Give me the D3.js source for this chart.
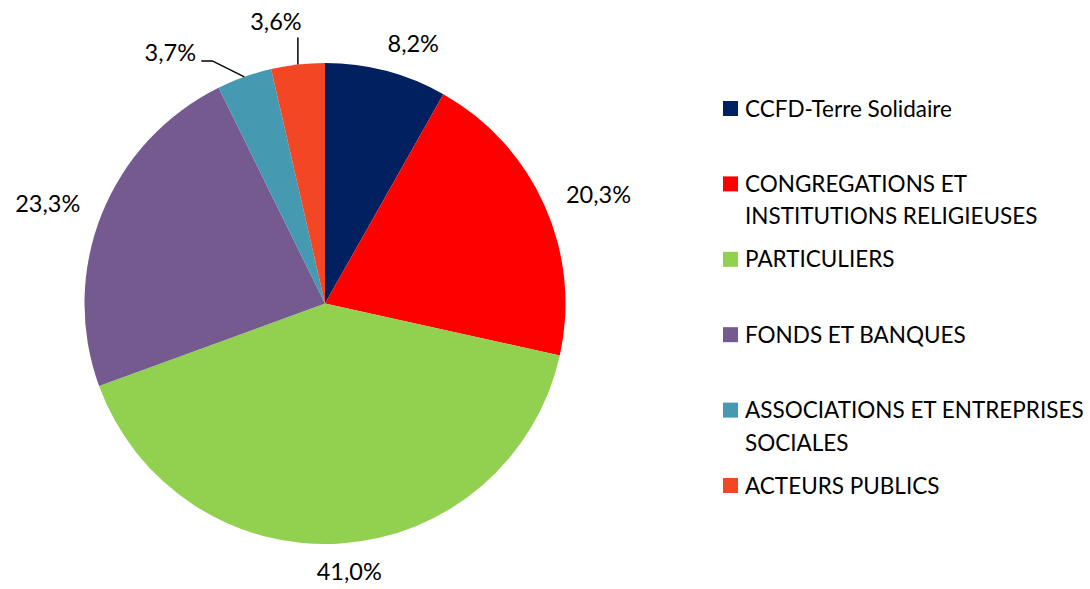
<!DOCTYPE html>
<html>
<head>
<meta charset="utf-8">
<script src="https://cdn.jsdelivr.net/npm/d3@7"></script>
<style>
  body { margin: 0; background: #fff; }
  text { font-family: Lato, "Open Sans", sans-serif; fill: #000; }
</style>
</head>
<body>
<div id="chart"></div>
<script>
// Data
const categories = [
  "CCFD-Terre Solidaire",
  "CONGREGATIONS ET INSTITUTIONS RELIGIEUSES",
  "PARTICULIERS",
  "FONDS ET BANQUES",
  "ASSOCIATIONS ET ENTREPRISES SOCIALES",
  "ACTEURS PUBLICS"
]
const legendLines = [
  ["CCFD-Terre Solidaire"],
  ["CONGREGATIONS ET", "INSTITUTIONS RELIGIEUSES"],
  ["PARTICULIERS"],
  ["FONDS ET BANQUES"],
  ["ASSOCIATIONS ET ENTREPRISES", "SOCIALES"],
  ["ACTEURS PUBLICS"]
]
const values = [8.2, 20.3, 41.0, 23.3, 3.7, 3.6]
const colors = ["#002060", "#ff0000", "#92d050", "#745a8f", "#4599b0", "#f24624"]

// Dimensions
const width = 1090
const height = 589
const cx = 325
const cy = 303.5
const radius = 240.5

const svg = d3.select("#chart")
  .append("svg")
  .attr("width", width)
  .attr("height", height)

const fmt = v => d3.format(".1f")(v).replace(".", ",") + "%"

const pie = d3.pie().sort(null).value(d => d)
const arcs = pie(values)
const arc = d3.arc().innerRadius(0).outerRadius(radius)

const g = svg.append("g").attr("transform", `translate(${cx},${cy})`)

g.selectAll("path")
  .data(arcs)
  .join("path")
  .attr("d", arc)
  .attr("fill", (d, i) => colors[i])

const mid = d => (d.startAngle + d.endAngle) / 2
const polar = (a, r) => [r * Math.sin(a), -r * Math.cos(a)]

// Labels outside the pie (best fit); the two small ones were pulled out with leader lines
const small = [4, 5]
const labels = g.append("g")
  .attr("font-size", 23.5)

arcs.forEach((d, i) => {
  const a = mid(d)
  const t = labels.append("text")
    .attr("text-anchor", "middle")
    .text(fmt(values[i]))
  const hw = t.node().getBBox().width / 2 + 3
  if (!small.includes(i)) {
    const [px, py] = polar(a, radius + 20)
    const s = Math.sin(a), c = Math.cos(a)
    const ox = hw * Math.sign(s) * Math.min(1, Math.abs(s) * 3)
    const oy = -8.5 * c
    t.attr("x", px + ox).attr("y", py + oy + 8.5)
  } else {
    const [sx, sy] = polar(a, radius)
    let pts, tx, ty
    if (i === 5) {
      pts = [[sx, sy], [sx, sy - 27]]
      tx = sx - 22
      ty = sy - 35
    } else {
      pts = [[sx, sy], [sx - 32, sy - 16], [sx - 43, sy - 16]]
      tx = sx - 74
      ty = sy - 16
    }
    labels.append("path")
      .attr("d", d3.line()(pts))
      .attr("fill", "none")
      .attr("stroke", "#000")
      .attr("stroke-width", 1.5)
    t.attr("x", tx).attr("y", ty)
  }
})

// Legend
const legend = svg.append("g")
  .attr("transform", "translate(723,101)")
  .attr("font-size", 22.5)

const item = legend.selectAll("g")
  .data(categories)
  .join("g")
  .attr("transform", (d, i) => `translate(0, ${i * 75.4})`)

item.append("rect")
  .attr("width", 15)
  .attr("height", 15)
  .attr("fill", (d, i) => colors[i])

item.append("text")
  .attr("x", 22)
  .attr("y", 15.5)
  .selectAll("tspan")
  .data((d, i) => legendLines[i])
  .join("tspan")
  .attr("x", 22)
  .attr("dy", (d, j) => j === 0 ? 0 : 32.5)
  .text(d => d)
</script>
</body>
</html>
